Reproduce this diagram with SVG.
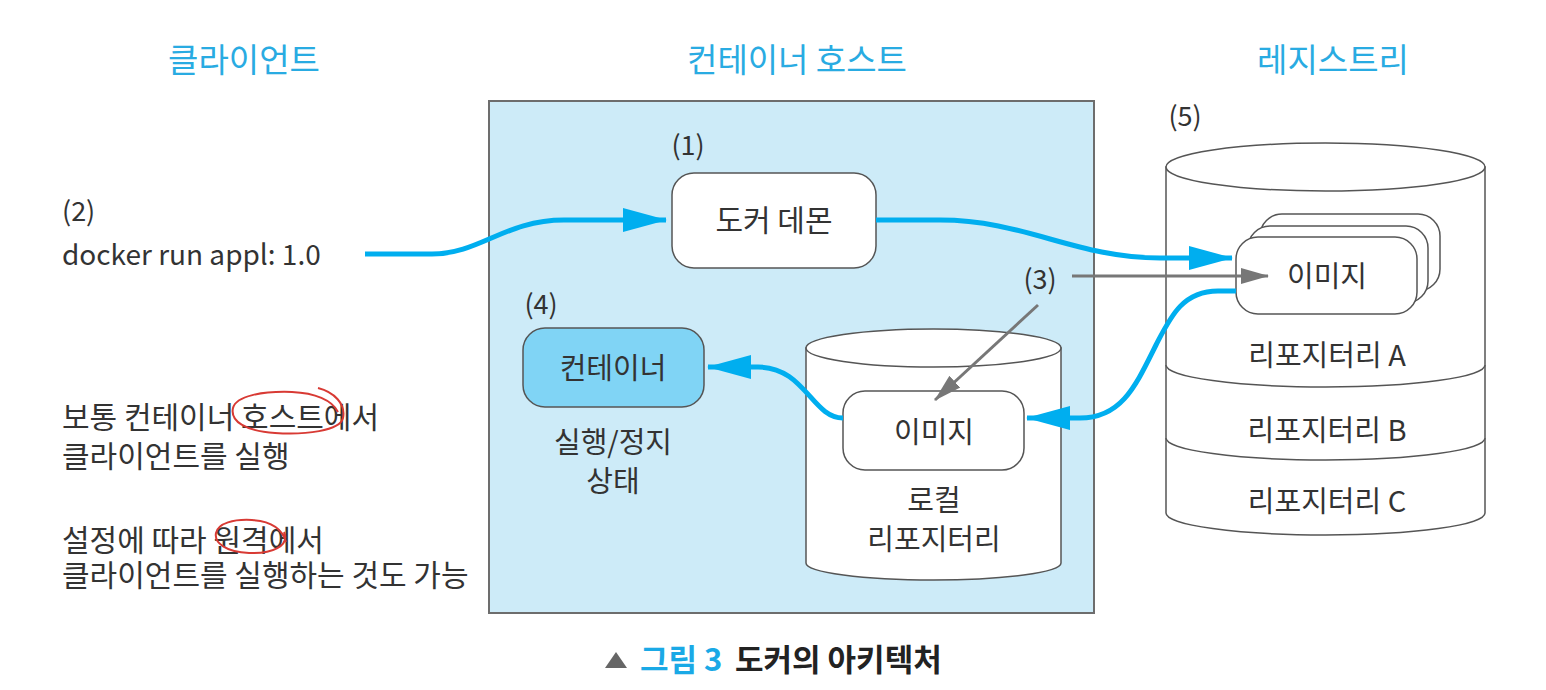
<svg xmlns="http://www.w3.org/2000/svg" width="1546" height="690" viewBox="0 0 1546 690">
<defs>
<style>
text{font-family:"Noto Sans CJK KR","Liberation Sans",sans-serif;fill:#333}
.hd{font-size:33px;fill:#29abe2;text-anchor:middle}
.lb{font-size:29px;text-anchor:middle}
.num{font-size:27px;text-anchor:middle}
.para{font-size:30px}
.box{fill:#fff;stroke:#555;stroke-width:1.5}
.cyl{fill:#fff;stroke:#555;stroke-width:1.5}
.blue{fill:none;stroke:#00aeef;stroke-width:5;marker-end:url(#ab)}
.gray{fill:none;stroke:#777;stroke-width:3;marker-end:url(#ag)}
.red{fill:none;stroke:#d83a34;stroke-width:2}
</style>
<marker id="ab" markerUnits="userSpaceOnUse" markerWidth="44" markerHeight="24" refX="43" refY="12" orient="auto">
<path d="M0,0 L44,12 L0,24 z" fill="#00aeef"/>
</marker>
<marker id="ag" markerUnits="userSpaceOnUse" markerWidth="28" markerHeight="18" refX="27" refY="9" orient="auto">
<path d="M0,1 L28,9 L0,17 z" fill="#777"/>
</marker>
</defs>
<rect width="1546" height="690" fill="#fff"/>

<g id="headers">
<text class="hd" x="244" y="72">클라이언트</text>
<text class="hd" x="797" y="72">컨테이너 호스트</text>
<text class="hd" x="1333" y="72">레지스트리</text>
</g>

<g id="host">
<rect x="489" y="101" width="605" height="512" fill="#cdebf8" stroke="#6d6d6d" stroke-width="2"/>
</g>

<g id="client">
<text class="num" x="62" y="221" style="text-anchor:start">(2)</text>
<text x="62" y="265" style="font-size:28px">docker run appl: 1.0</text>
</g>

<g id="notes">
<text class="para" x="62" y="428">보통 컨테이너 호스트에서</text>
<text class="para" x="62" y="467">클라이언트를 실행</text>
<text class="para" x="62" y="551">설정에 따라 원격에서</text>
<text class="para" x="62" y="586">클라이언트를 실행하는 것도 가능</text>
<path class="red" d="M318,388 C334,392 346,404 343,418 C340,431 305,435 275,433 C245,431 230,421 233,408 C236,396 262,391 292,392 C315,393 332,400 338,412"/>
<path class="red" d="M284,532 C290,546 272,554 249,553 C226,552 214,543 216,533 C218,523 234,519 252,520 C270,521 282,528 286,542"/>
</g>

<g id="daemon">
<text class="num" x="688" y="155">(1)</text>
<rect class="box" x="672" y="173" width="204" height="95" rx="22"/>
<text class="lb" x="774" y="231" style="font-size:30px">도커 데몬</text>
</g>

<g id="container">
<text class="num" x="541" y="314">(4)</text>
<rect x="523" y="328" width="181" height="79" rx="22" fill="#80d4f5" stroke="#555" stroke-width="1.5"/>
<text class="lb" x="613" y="379">컨테이너</text>
<text class="lb" x="613" y="453">실행/정지</text>
<text class="lb" x="613" y="492">상태</text>
</g>

<g id="local-repo">
<path class="cyl" d="M806,348 L806,563 A127.5,17 0 0 0 1061,563 L1061,348 z"/>
<ellipse class="cyl" cx="933.5" cy="348" rx="127.5" ry="19"/>
<rect class="box" x="843" y="391" width="181" height="79" rx="22"/>
<text class="lb" x="934" y="443">이미지</text>
<text class="lb" x="934" y="511">로컬</text>
<text class="lb" x="934" y="550">리포지터리</text>
</g>

<g id="registry">
<text class="num" x="1185" y="126">(5)</text>
<path class="cyl" d="M1166,167 L1166,513 A159.5,22 0 0 0 1485,513 L1485,167 z"/>
<ellipse class="cyl" cx="1325.5" cy="167" rx="159.5" ry="24"/>
<path class="cyl" fill="none" d="M1166,365 A159.5,22 0 0 0 1485,365"/>
<path class="cyl" fill="none" d="M1166,438 A159.5,22 0 0 0 1485,438"/>
<rect class="box" x="1260" y="214" width="180" height="77" rx="22"/>
<rect class="box" x="1248" y="226" width="180" height="77" rx="22"/>
<rect class="box" x="1236" y="237" width="181" height="77" rx="22"/>
<text class="lb" x="1327" y="287">이미지</text>
<text class="lb" x="1327" y="366">리포지터리 A</text>
<text class="lb" x="1327" y="441">리포지터리 B</text>
<text class="lb" x="1327" y="512">리포지터리 C</text>
</g>

<g id="connectors">
<path class="blue" d="M365,254 L432,254 C480,254 505,220 564,220 L666,220"/>
<path class="blue" d="M876,220 L940,220 C1025,220 1075,258 1160,258 L1232,258"/>
<path class="blue" d="M1236,291 L1218,291 C1182,291 1170,318 1156,345 C1136,385 1122,418 1080,418 L1027,418"/>
<path class="blue" d="M843,418 C812,418 805,367 758,367 L708,367"/>
<path class="gray" d="M1072,276 L1268,276"/>
<path class="gray" d="M1038,305 L935,400"/>
<text class="num" x="1040" y="289">(3)</text>
</g>

<g id="caption">
<polygon points="605,668 616,652 627,668" fill="#666"/>
<text x="640" y="671" style="font-size:31px;font-weight:700"><tspan fill="#1aa9e6">그림 3</tspan><tspan x="735" fill="#222">도커의 아키텍처</tspan></text>
</g>
</svg>
